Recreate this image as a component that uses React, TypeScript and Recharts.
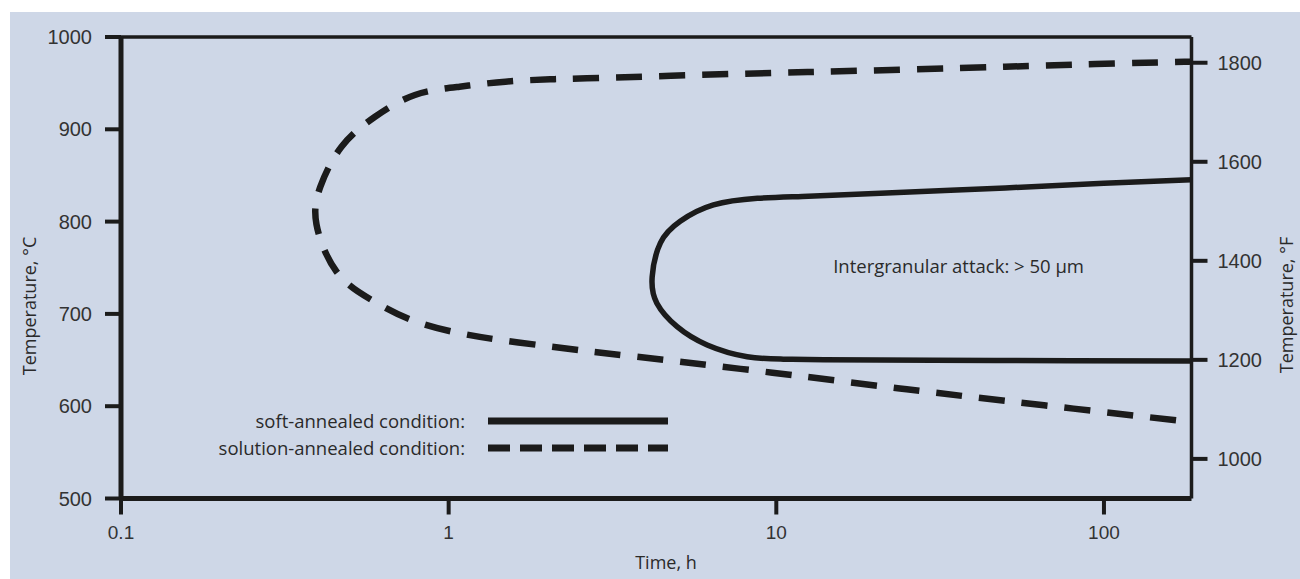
import React from "react";
import {
  Line,
  LineChart,
  ReferenceDot,
  ReferenceLine,
  XAxis,
  YAxis,
} from "recharts";

// time axis (h, log scale) and temperature axes
const timeTicks = [0.1, 1, 10, 100];
const celsiusTicks = [500, 600, 700, 800, 900, 1000];
const fahrenheitTicks = [1000, 1200, 1400, 1600, 1800];

// solution-annealed condition: C-curve, from upper right round the nose to lower right
const solutionTime = [
  185, 176, 94, 49.9, 26.3, 13.9, 7.33, 2.64, 2.04, 1.49, 1.08, 0.789, 0.596,
  0.471, 0.406, 0.395, 0.455, 0.582, 0.771, 1.06, 1.44, 1.99, 2.58, 3.74,
  9.73, 25, 65.6, 170, 185,
];
const solutionTemp = [
  974, 973.2, 970.7, 967.8, 965, 962.4, 959.9, 955.3, 954.2, 951.6, 946.2,
  937.2, 913.6, 881.1, 837.8, 797, 745.7, 715.1, 693.4, 679.7, 671.7,
  665.2, 660.1, 653.6, 636.3, 618.3, 601, 584.3, 582.9,
];

// soft-annealed condition
const softTime = [
  185, 100, 50, 20.8, 12, 8.76, 6.43, 5.09, 4.43, 4.18, 4.32, 4.98, 6.15, 8.15,
  10.5, 14, 30, 80, 185,
];
const softTemp = [
  845.3, 841.5, 836.5, 830.7, 827.3, 825.2, 818, 800.3, 776.9, 740.3, 711.5,
  686.1, 666.3, 653.6, 651, 650.2, 649.7, 649.3, 649,
];

const solutionData = solutionTime.map((t, i) => ({ time: t, temp: solutionTemp[i] }));
const softData = softTime.map((t, i) => ({ time: t, temp: softTemp[i] }));

const ink = "#1b1b1b";
const textColor = "#2a2a2a";
const font = "'Open Sans', 'Noto Sans', sans-serif";
const tickFont = "'Liberation Sans', Arial, sans-serif";

function LegendRow({ label, top, dashed }: { label: string; top: number; dashed?: boolean }) {
  return (
    <>
      <div
        style={{
          position: "absolute",
          left: 150,
          top: top - 12,
          width: 315,
          height: 24,
          lineHeight: "24px",
          textAlign: "right",
          fontFamily: font,
          fontSize: 18.5,
          color: textColor,
        }}
      >
        {label}
      </div>
      <svg
        style={{ position: "absolute", left: 488, top: top - 12 }}
        width={182}
        height={24}
      >
        <line
          x1={0}
          x2={180}
          y1={12}
          y2={12}
          stroke={ink}
          strokeWidth={7}
          strokeDasharray={dashed ? "22 10" : undefined}
        />
      </svg>
    </>
  );
}

export default function App() {
  return (
    <div
      style={{
        position: "absolute",
        left: 0,
        top: 0,
        width: 1300,
        height: 579,
        background: "#ffffff",
        overflow: "hidden",
      }}
    >
      <div
        style={{
          position: "absolute",
          left: 10,
          top: 12,
          width: 1290,
          height: 567,
          background: "#ced7e7",
        }}
      >
        <LineChart
          width={1290}
          height={567}
          margin={{ top: 25, right: 28.5, bottom: 30.5, left: 31 }}
        >
          <XAxis
            dataKey="time"
            type="number"
            scale="log"
            domain={[0.1, 185]}
            ticks={timeTicks}
            allowDataOverflow
            height={50}
            axisLine={{ stroke: ink, strokeWidth: 5 }}
            tickLine={{ stroke: ink, strokeWidth: 4 }}
            tickSize={16}
            tickMargin={11}
            tick={{ fill: "#333", fontSize: 19, fontFamily: tickFont }}
            tickFormatter={(v: number) => String(v)}
            label={{
              content: () => (
                <text
                  x={656}
                  y={557}
                  textAnchor="middle"
                  fill={textColor}
                  fontSize={18}
                  fontFamily={font}
                >
                  Time, h
                </text>
              ),
            }}
          />
          <YAxis
            yAxisId="c"
            type="number"
            domain={[500, 1000]}
            ticks={celsiusTicks}
            interval={0}
            width={80}
            axisLine={{ stroke: ink, strokeWidth: 5 }}
            tickLine={{ stroke: ink, strokeWidth: 4 }}
            tickSize={16}
            tickMargin={13}
            tick={{ fill: "#333", fontSize: 20, fontFamily: tickFont }}
            label={{
              content: () => (
                <text
                  x={26}
                  y={294}
                  transform="rotate(-90 26 294)"
                  textAnchor="middle"
                  fill={textColor}
                  fontSize={18}
                  fontFamily={font}
                >
                  Temperature, °C
                </text>
              ),
            }}
          />
          <YAxis
            yAxisId="f"
            orientation="right"
            type="number"
            domain={[920, 1852]}
            ticks={fahrenheitTicks}
            interval={0}
            allowDataOverflow
            width={80}
            axisLine={{ stroke: ink, strokeWidth: 3.5 }}
            tickLine={{ stroke: ink, strokeWidth: 4 }}
            tickSize={16}
            tickMargin={10}
            tick={{ fill: "#333", fontSize: 20, fontFamily: tickFont }}
            label={{
              content: () => (
                <text
                  x={1283}
                  y={293}
                  transform="rotate(-90 1283 293)"
                  textAnchor="middle"
                  fill={textColor}
                  fontSize={18}
                  fontFamily={font}
                >
                  Temperature, °F
                </text>
              ),
            }}
          />
          <ReferenceLine yAxisId="c" y={1000} stroke={ink} strokeWidth={3.5} />
          <Line
            yAxisId="c"
            data={solutionData}
            dataKey="temp"
            type="natural"
            stroke={ink}
            strokeWidth={6.5}
            strokeDasharray="26 17"
            dot={false}
            activeDot={false}
            isAnimationActive={false}
          />
          <Line
            yAxisId="c"
            data={softData}
            dataKey="temp"
            type="natural"
            stroke={ink}
            strokeWidth={5.5}
            dot={false}
            activeDot={false}
            isAnimationActive={false}
          />
          <ReferenceDot
            yAxisId="c"
            x={36}
            y={751}
            r={0}
            fill="none"
            stroke="none"
            label={{
              value: "Intergranular attack: > 50 μm",
              position: "center",
              fill: textColor,
              fontSize: 18.5,
              fontFamily: font,
            }}
          />
        </LineChart>
      </div>
      <LegendRow label="soft-annealed condition:" top={421} />
      <LegendRow label="solution-annealed condition:" top={448} dashed />
    </div>
  );
}
